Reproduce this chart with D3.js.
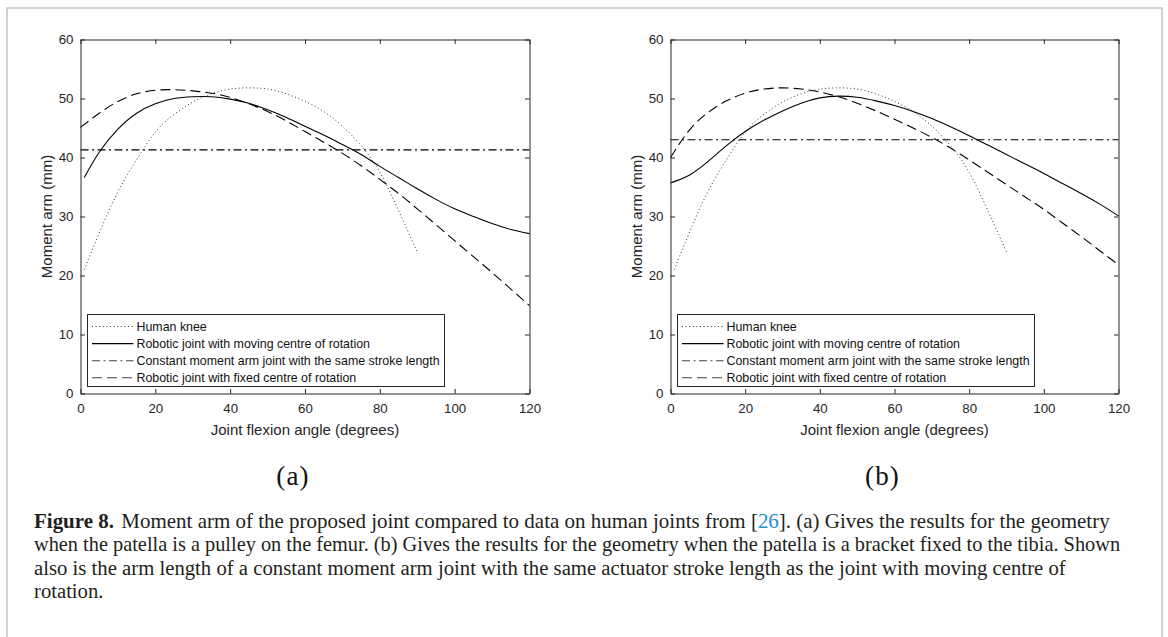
<!DOCTYPE html>
<html>
<head>
<meta charset="utf-8">
<script src="https://cdn.jsdelivr.net/npm/d3@7"></script>
<style>
  body { margin: 0; background: #fff; }
  svg { display: block; }
</style>
</head>
<body>
<svg id="fig" width="1168" height="637"></svg>
<script>
// human knee data (same in both panels)
const kneeAngles = [1, 5, 10, 15, 20, 25, 30, 35, 40, 45, 50, 55, 60, 65, 70, 75, 80, 85, 90];
const kneeArm = [21.0, 27.2, 34.2, 39.6, 44.3, 47.3, 49.4, 50.8, 51.6, 51.8, 51.6, 50.8, 49.5, 47.8, 45.3, 42.0, 37.5, 31.0, 24.0];

// robotic joints, angles in degrees
const anglesA = [1, 5, 10, 15, 20, 25, 30, 35, 40, 45, 50, 55, 60, 65, 70, 75, 80, 85, 90, 95, 100, 105, 110, 115, 120];
const angles = [0, 5, 10, 15, 20, 25, 30, 35, 40, 45, 50, 55, 60, 65, 70, 75, 80, 85, 90, 95, 100, 105, 110, 115, 120];

// (a) patella is a pulley on the femur
const movingA = [36.6, 40.9, 44.8, 47.5, 49.1, 50.0, 50.3, 50.3, 49.9, 49.2, 48.1, 46.8, 45.3, 43.8, 42.2, 40.5, 38.5, 36.6, 34.7, 32.9, 31.3, 30.0, 28.8, 27.8, 27.1];
const fixedA = [45.1, 47.5, 49.5, 50.8, 51.4, 51.5, 51.3, 50.9, 50.2, 49.1, 47.8, 46.2, 44.4, 42.6, 40.7, 38.6, 36.3, 33.9, 31.3, 28.6, 25.9, 23.2, 20.5, 17.7, 14.9];
const constA = 41.3;

// (b) patella is a bracket fixed to the tibia
const movingB = [35.7, 37.0, 39.3, 42.0, 44.4, 46.3, 47.9, 49.2, 50.1, 50.4, 50.2, 49.6, 48.8, 47.8, 46.6, 45.2, 43.7, 42.1, 40.5, 38.9, 37.3, 35.6, 33.9, 32.1, 30.1];
const fixedB = [40.0, 44.6, 47.6, 49.6, 50.9, 51.6, 51.8, 51.6, 51.1, 50.3, 49.2, 47.9, 46.5, 45.0, 43.4, 41.6, 39.6, 37.5, 35.4, 33.3, 31.2, 28.9, 26.6, 24.2, 21.8];
const constB = 43.0;

const xTicks = [0, 20, 40, 60, 80, 100, 120];
const yTicks = [0, 10, 20, 30, 40, 50, 60];
const legendLabels = [
  'Human knee',
  'Robotic joint with moving centre of rotation',
  'Constant moment arm joint with the same stroke length',
  'Robotic joint with fixed centre of rotation'
];
const dashes = ['1 2.6', null, '8 3.5 2 3.5', '10 5'];

const captionLines = [
  'when the patella is a pulley on the femur. (b) Gives the results for the geometry when the patella is a bracket fixed to the tibia. Shown',
  'also is the arm length of a constant moment arm joint with the same actuator stroke length as the joint with moving centre of',
  'rotation.'
];

const axisColor = '#262626';
const sans = "'Liberation Sans', Arial, Helvetica, sans-serif";
const serif = "'Liberation Serif', 'Times New Roman', serif";

const svg = d3.select('#fig');

// outer frame
svg.append('rect')
  .attr('x', 7).attr('y', 8)
  .attr('width', 1155).attr('height', 700)
  .attr('fill', 'none')
  .attr('stroke', '#c4c4c4')
  .attr('stroke-width', 1.5);

const panels = [
  { x0: 80.5, x1: 529.5, tag: '(a)', moving: movingA, movingX: anglesA, fixed: fixedA, constant: constA },
  { x0: 670.5, x1: 1118.5, tag: '(b)', moving: movingB, movingX: angles, fixed: fixedB, constant: constB }
];

function styleAxis(g, fontSize) {
  g.select('.domain').attr('stroke', axisColor).attr('stroke-width', 1);
  g.selectAll('.tick line').attr('stroke', axisColor).attr('stroke-width', 1);
  g.selectAll('.tick text')
    .attr('fill', axisColor)
    .attr('font-size', fontSize)
    .attr('font-family', sans);
}

panels.forEach(p => {
  const x = d3.scaleLinear().domain([0, 120]).range([p.x0, p.x1]);
  const y = d3.scaleLinear().domain([0, 60]).range([393.5, 39.5]);
  const g = svg.append('g');

  const line = d3.line()
    .x(d => x(d[0]))
    .y(d => y(d[1]))
    .curve(d3.curveNatural);

  const series = [
    kneeAngles.map((a, i) => [a, kneeArm[i]]),
    p.movingX.map((a, i) => [a, p.moving[i]]),
    [[0, p.constant], [120, p.constant]],
    angles.map((a, i) => [a, p.fixed[i]])
  ];

  g.selectAll('path.curve')
    .data(series)
    .enter()
    .append('path')
    .attr('class', 'curve')
    .attr('d', line)
    .attr('fill', 'none')
    .attr('stroke', (d, i) => i == 0 ? '#333' : '#000')
    .attr('stroke-width', (d, i) => i == 0 ? 1 : 1.1)
    .attr('stroke-dasharray', (d, i) => dashes[i]);

  // box with inward ticks on all sides
  g.append('g')
    .attr('transform', 'translate(0,' + y(0) + ')')
    .call(d3.axisBottom(x).tickValues(xTicks).tickSizeInner(-4.5).tickSizeOuter(0).tickPadding(10))
    .call(a => styleAxis(a, 13.3));
  g.append('g')
    .attr('transform', 'translate(0,' + y(60) + ')')
    .call(d3.axisTop(x).tickValues(xTicks).tickSizeInner(-4.5).tickSizeOuter(0).tickFormat(''))
    .call(a => styleAxis(a, 13.3));
  g.append('g')
    .attr('transform', 'translate(' + x(0) + ',0)')
    .call(d3.axisLeft(y).tickValues(yTicks).tickSizeInner(-4.5).tickSizeOuter(0).tickPadding(7))
    .call(a => styleAxis(a, 13.3));
  g.append('g')
    .attr('transform', 'translate(' + x(120) + ',0)')
    .call(d3.axisRight(y).tickValues(yTicks).tickSizeInner(-4.5).tickSizeOuter(0).tickFormat(''))
    .call(a => styleAxis(a, 13.3));

  // axis titles
  g.append('text')
    .attr('x', (p.x0 + p.x1) / 2)
    .attr('y', 435)
    .attr('text-anchor', 'middle')
    .attr('font-family', sans)
    .attr('font-size', 15)
    .attr('fill', axisColor)
    .text('Joint flexion angle (degrees)');
  g.append('text')
    .attr('transform', 'translate(' + (p.x0 - 29) + ',' + 216.5 + ') rotate(-90)')
    .attr('text-anchor', 'middle')
    .attr('font-family', sans)
    .attr('font-size', 15)
    .attr('fill', axisColor)
    .text('Moment arm (mm)');

  // legend
  const lx = p.x0 + 7, ly = 314.5;
  const legend = g.append('g').attr('transform', 'translate(' + lx + ',' + ly + ')');
  legend.append('rect')
    .attr('width', 357).attr('height', 72)
    .attr('fill', '#fff')
    .attr('stroke', axisColor)
    .attr('stroke-width', 1);
  const rows = legend.selectAll('g.row')
    .data(legendLabels)
    .enter()
    .append('g')
    .attr('class', 'row')
    .attr('transform', (d, i) => 'translate(0,' + (12 + i * 17.1) + ')');
  rows.append('line')
    .attr('x1', 4.5).attr('x2', 46)
    .attr('stroke', (d, i) => i == 0 ? '#333' : (i == 1 ? '#000' : '#444'))
    .attr('stroke-width', 1.1)
    .attr('stroke-dasharray', (d, i) => dashes[i]);
  rows.append('text')
    .attr('x', 49)
    .attr('dy', '0.35em')
    .attr('font-family', sans)
    .attr('font-size', 12.4)
    .attr('fill', '#111')
    .text(d => d);

  // panel tag
  svg.append('text')
    .attr('x', (p.x0 + p.x1) / 2 - 12)
    .attr('y', 485)
    .attr('text-anchor', 'middle')
    .attr('font-family', serif)
    .attr('font-size', 27)
    .attr('letter-spacing', 1.2)
    .attr('fill', '#111')
    .text(p.tag);
});

// caption
const capX = 34;
const capSize = 20;
const capColor = '#231f20';
const cap = svg.append('g').attr('font-family', serif).attr('font-size', capSize).attr('fill', capColor);

const first = cap.append('text').attr('y', 528);
first.append('tspan').attr('font-weight', 'bold').text('Figure 8.');
first.append('tspan').attr('dx', 7).text('Moment arm of the proposed joint compared to data on human joints from [');
first.append('tspan').attr('fill', '#1f8fd2').text('26');
first.append('tspan').text(']. (a) Gives the results for the geometry');

const others = captionLines.map((t, i) => cap.append('text').attr('y', 551.5 + i * 23.5).text(t));

const targets = [1069, 1087, 1032];
const texts = [first, others[0], others[1]];
let ratios = [];
texts.forEach((t, i) => {
  const w = t.node().getComputedTextLength();
  const k = targets[i] / w;
  ratios.push(k);
  t.attr('transform', 'translate(' + capX + ',0) scale(' + k + ',1)');
});
const kAvg = d3.mean(ratios);
others[2].attr('transform', 'translate(' + capX + ',0) scale(' + kAvg + ',1)');
</script>
</body>
</html>
